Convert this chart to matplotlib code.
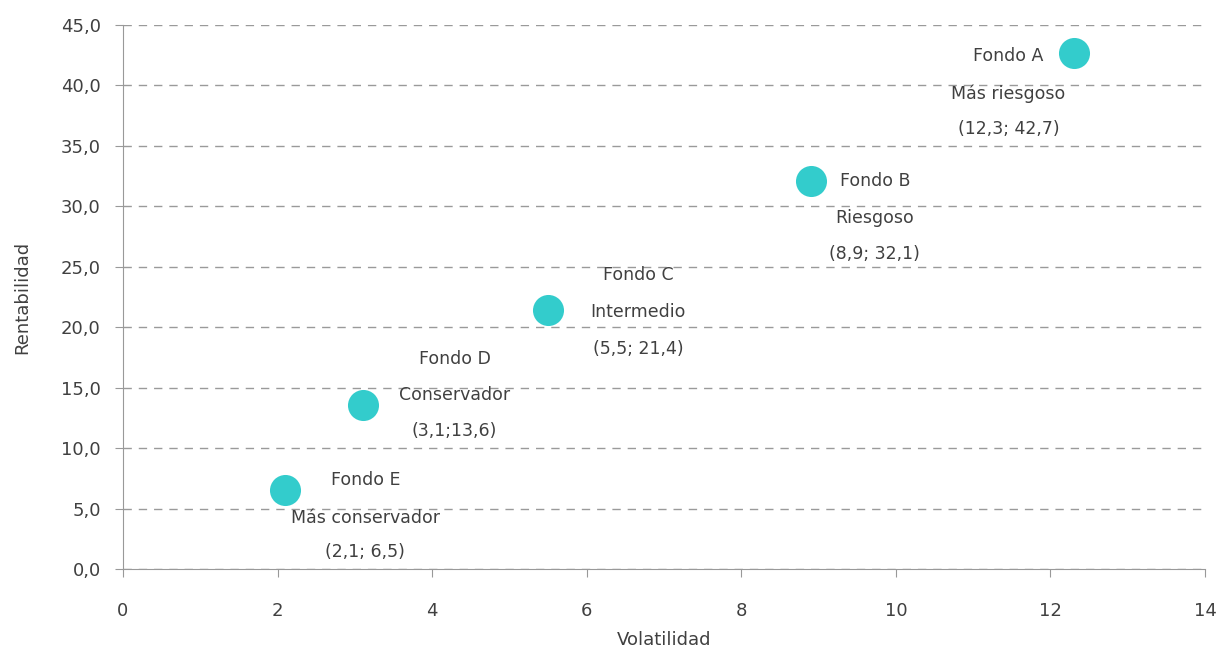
import matplotlib.pyplot as plt
from matplotlib.ticker import FuncFormatter

# data
volatilidad = [12.3, 8.9, 5.5, 3.1, 2.1]
rentabilidad = [42.7, 32.1, 21.4, 13.6, 6.5]
fondos = ["Fondo A", "Fondo B", "Fondo C", "Fondo D", "Fondo E"]
perfiles = ["Más riesgoso", "Riesgoso", "Intermedio", "Conservador", "Más conservador"]
coords = ["(12,3; 42,7)", "(8,9; 32,1)", "(5,5; 21,4)", "(3,1;13,6)", "(2,1; 6,5)"]

# label offsets (pixels from marker): dx, dy of the three text lines
offsets = [
    (-65, [-3, -41, -76]),
    (64, [0, -37, -73]),
    (90, [35, -2, -39]),
    (92, [46, 10, -26]),
    (80, [10, -28, -62]),
]

txt = "#404040"
plt.rcParams['font.family'] = ['DejaVu Sans']
fig = plt.figure(figsize=(12.19, 6.52), dpi=100)
ax = fig.add_axes([0.1009, 0.1273, 0.8876, 0.8344])

ax.scatter(volatilidad, rentabilidad, s=500, color="#33CCCC", zorder=3, linewidths=0)

for i in range(len(fondos)):
    dx, dys = offsets[i]
    for line, dy in zip([fondos[i], perfiles[i], coords[i]], dys):
        ax.annotate(line, (volatilidad[i], rentabilidad[i]), xytext=(dx * 0.72, dy * 0.72),
                    textcoords="offset points", ha="center", va="center",
                    fontsize=12.5, color=txt)

ax.set_xlim(0, 14)
ax.set_ylim(0, 45)
ax.set_xticks(range(0, 15, 2))
ax.set_yticks([0, 5, 10, 15, 20, 25, 30, 35, 40, 45])
ax.yaxis.set_major_formatter(FuncFormatter(lambda v, p: f"{v:.1f}".replace(".", ",")))
ax.grid(axis="y", linestyle=(0, (6, 5)), color="#9a9a9a", linewidth=1)
ax.set_axisbelow(True)
for s in ["top", "right"]:
    ax.spines[s].set_visible(False)
for s in ["left", "bottom"]:
    ax.spines[s].set_color("#999999")
ax.tick_params(colors="#999999", labelcolor=txt, labelsize=13, length=6, direction="out")
ax.tick_params(axis="y", pad=10)
ax.tick_params(axis="x", pad=18)
ax.set_xlabel("Volatilidad", fontsize=13, color=txt, labelpad=8)
ax.set_ylabel("Rentabilidad", fontsize=13, color=txt, labelpad=21)

fig.savefig("out.png", dpi=100)
